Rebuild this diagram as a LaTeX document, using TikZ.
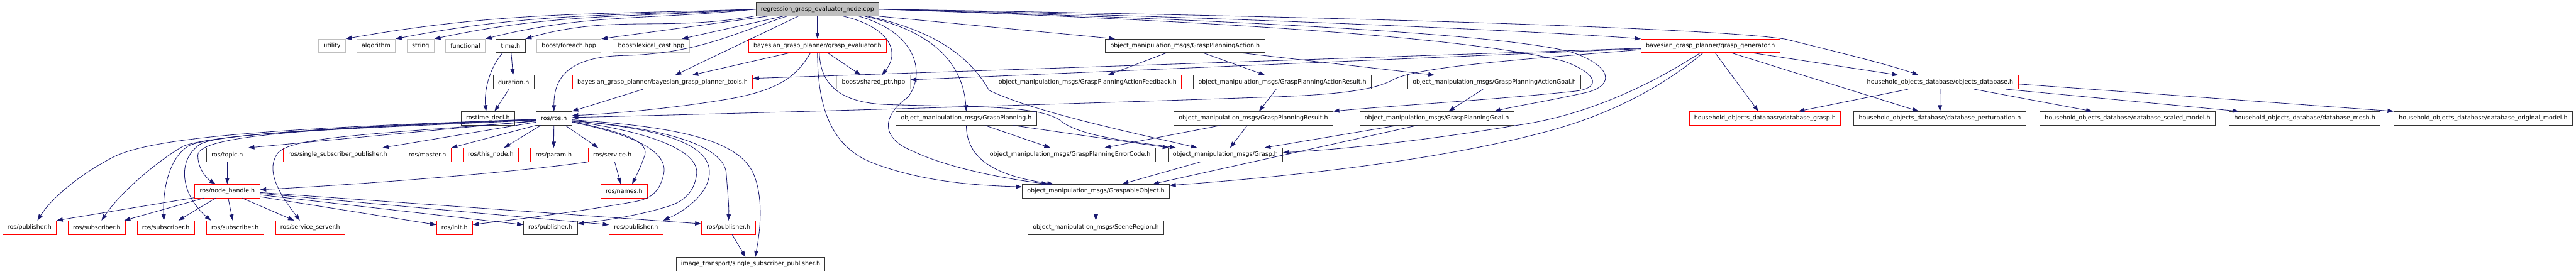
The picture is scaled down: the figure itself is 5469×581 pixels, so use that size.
\documentclass[tikz,border=0pt]{standalone}
\usepackage{fontspec}
\setmainfont{DejaVu Sans}
\usetikzlibrary{arrows.meta}

\definecolor{edgeblue}{RGB}{25,25,112}
\definecolor{hdrgray}{RGB}{191,191,191}

\begin{document}
\begin{tikzpicture}[x=1pt, y=-1pt,
    every node/.style={font=\fontsize{12.7}{15}\selectfont},
    box/.style={draw=black!80, line width=1.1pt, fill=white, minimum height=29pt, inner xsep=10.5pt, inner ysep=0pt},
    redbox/.style={box, draw=red},
    graybox/.style={box, draw=hdrgray},
    dep/.style={draw=edgeblue, line width=1.1pt, -{Triangle[length=13pt,width=9pt]}}]
    \useasboundingbox (0,0) rectangle (5469,581);

    % Source file
    \node[box, fill=hdrgray] (main) at (1735.5,19.5) {regression\_grasp\_evaluator\_node.cpp};

    % Row 1
    \node[graybox] (utility) at (705,97.5) {utility};
    \node[graybox] (algorithm) at (798.5,97.5) {algorithm};
    \node[graybox] (string) at (893,97.5) {string};
    \node[graybox] (functional) at (988,97.5) {functional};
    \node[box] (timeh) at (1084,97.5) {time.h};
    \node[graybox] (foreach) at (1208,97.5) {boost/foreach.hpp};
    \node[graybox] (lexcast) at (1382.5,97.5) {boost/lexical\_cast.hpp};
    \node[redbox] (gev) at (1735.5,97.5) {bayesian\_grasp\_planner/grasp\_evaluator.h};
    \node[box] (gpa) at (2516,97.5) {object\_manipulation\_msgs/GraspPlanningAction.h};
    \node[redbox] (ggen) at (3631.5,97.5) {bayesian\_grasp\_planner/grasp\_generator.h};

    % Row 2
    \node[box] (duration) at (1090.5,174.5) {duration.h};
    \node[redbox] (tools) at (1406.5,174.5) {bayesian\_grasp\_planner/bayesian\_grasp\_planner\_tools.h};
    \node[graybox] (sptr) at (1854.5,174.5) {boost/shared\_ptr.hpp};
    \node[redbox] (gpafb) at (2309,174.5) {object\_manipulation\_msgs/GraspPlanningActionFeedback.h};
    \node[box] (gpares) at (2722.5,174.5) {object\_manipulation\_msgs/GraspPlanningActionResult.h};
    \node[box] (gpagoal) at (3172.5,174.5) {object\_manipulation\_msgs/GraspPlanningActionGoal.h};
    \node[redbox] (objdb) at (4119,174.5) {household\_objects\_database/objects\_database.h};

    % Row 3
    \node[box] (rdecl) at (1036,251.5) {rostime\_decl.h};
    \node[box] (rosros) at (1176,251.5) {ros/ros.h};
    \node[box] (gpl) at (2051.5,251.5) {object\_manipulation\_msgs/GraspPlanning.h};
    \node[box] (gpr) at (2661,251.5) {object\_manipulation\_msgs/GraspPlanningResult.h};
    \node[box] (gpg) at (3050.5,251.5) {object\_manipulation\_msgs/GraspPlanningGoal.h};
    \node[redbox] (dbgrasp) at (3747,251.5) {household\_objects\_database/database\_grasp.h};
    \node[box] (dbpert) at (4118.5,251.5) {household\_objects\_database/database\_perturbation.h};
    \node[box] (dbscaled) at (4517,251.5) {household\_objects\_database/database\_scaled\_model.h};
    \node[box] (dbmesh) at (4893,251.5) {household\_objects\_database/database\_mesh.h};
    \node[box] (dborig) at (5272,251.5) {household\_objects\_database/database\_original\_model.h};

    % Row 4
    \node[box] (topic) at (482.5,329) {ros/topic.h};
    \node[redbox] (ssp) at (717,329) {ros/single\_subscriber\_publisher.h};
    \node[redbox] (master) at (907.5,329) {ros/master.h};
    \node[redbox] (thisnode) at (1042,329) {ros/this\_node.h};
    \node[redbox] (param) at (1175.5,329) {ros/param.h};
    \node[redbox] (service) at (1300,329) {ros/service.h};
    \node[box] (errc) at (2272,329) {object\_manipulation\_msgs/GraspPlanningErrorCode.h};
    \node[box] (grasp) at (2601.5,329) {object\_manipulation\_msgs/Grasp.h};

    % Row 5
    \node[redbox] (nh) at (482.5,406) {ros/node\_handle.h};
    \node[redbox] (names) at (1325,406) {ros/names.h};
    \node[box] (gobj) at (2326.5,406) {object\_manipulation\_msgs/GraspableObject.h};

    % Row 6
    \node[redbox] (pubA) at (62.5,483.5) {ros/publisher.h};
    \node[redbox] (subA) at (205.5,483.5) {ros/subscriber.h};
    \node[redbox] (subB) at (352,483.5) {ros/subscriber.h};
    \node[redbox] (subC) at (499,483.5) {ros/subscriber.h};
    \node[redbox] (svr) at (658.5,483.5) {ros/service\_server.h};
    \node[redbox] (init) at (965,483.5) {ros/init.h};
    \node[box] (pubB) at (1168.5,483.5) {ros/publisher.h};
    \node[redbox] (pubC) at (1350.5,483.5) {ros/publisher.h};
    \node[redbox] (pubD) at (1546.5,483.5) {ros/publisher.h};
    \node[box] (scene) at (2326.5,483.5) {object\_manipulation\_msgs/SceneRegion.h};

    % Row 7
    \node[box] (imtr) at (1593.5,561) {image\_transport/single\_subscriber\_publisher.h};

    % main -> system and boost headers
    \draw[dep] (main.west) to[out=182,in=10] (utility.north east);
    \draw[dep] (main.west) to[out=183,in=11] (algorithm.north east);
    \draw[dep] (main.west) to[out=184,in=12] (string.north east);
    \draw[dep] (main.west) to[out=186,in=14] (functional.north east);
    \draw[dep] ([xshift=-4pt]main.south west) to[out=190,in=16] (timeh.north east);
    \draw[dep] ([xshift=25pt]main.south west) -- (foreach.north east);
    \draw[dep] ([xshift=58pt]main.south west) -- ([xshift=-16pt]lexcast.north east);

    % main -> project headers
    \draw[dep] (main) -- (gev);
    \draw[dep] ([xshift=-41pt]main.south) -- ([xshift=27pt]tools.north);
    \draw[dep] ([xshift=-65pt]main.south) .. controls (1560,70) and (1480,115) .. (1320,118) .. controls (1200,122) and (1176,170) .. (rosros.north);
    \draw[dep] ([xshift=55pt]main.south) .. controls (1880,55) and (1915,105) .. ([xshift=18pt]sptr.north);
    \draw[dep] (main.south east) -- ([xshift=-149pt]gpa.north);
    \draw[dep] ([xshift=100pt]main.south) .. controls (2000,70) and (2045,150) .. (gpl.north);
    \draw[dep] ([xshift=107pt]main.south) .. controls (2010,70) and (2070,140) .. (2100,192) .. controls (2200,240) and (2420,285) .. ([xshift=-60pt]grasp.north);
    \draw[dep] ([xshift=88pt]main.south) .. controls (1950,70) and (1965,160) .. (1927,207) .. controls (1880,240) and (1860,290) .. (1940,322) .. controls (2020,360) and (2150,382) .. ([xshift=-102pt]gobj.north);
    \draw[dep] (main.east) .. controls (2600,35) and (3300,68) .. (ggen.north west);
    \draw[dep] (main.east) .. controls (3000,38) and (3650,62) .. (3790,83) .. controls (3900,110) and (4020,140) .. ([xshift=-46pt]objdb.north);
    \draw[dep] (main.east) .. controls (2900,50) and (3250,85) .. (3340,112) .. controls (3420,140) and (3430,180) .. (3370,196) .. controls (3300,212) and (3220,225) .. ([xshift=122pt]gpg.north);
    \draw[dep] (main.east) .. controls (2900,55) and (3200,100) .. (3320,130) .. controls (3390,155) and (3400,185) .. (3350,193) .. controls (3200,210) and (2950,225) .. (gpr.north east);

    % grasp_evaluator.h
    \draw[dep] ([xshift=-60pt]gev.south) -- ([xshift=63pt]tools.north);
    \draw[dep] ([xshift=22pt]gev.south) -- ([xshift=-27pt]sptr.north);
    \draw[dep] ([xshift=-15pt]gev.south) .. controls (1690,165) and (1650,190) .. (1560,208) .. controls (1450,228) and (1300,242) .. ([yshift=6pt]rosros.east);
    \draw[dep] (gev.south) .. controls (1736,230) and (1765,310) .. (1850,345) .. controls (1960,388) and (2080,394) .. ([yshift=-6pt]gobj.north west);
    \draw[dep] ([xshift=4pt]gev.south) .. controls (1742,185) and (1790,218) .. (1880,222) .. controls (2050,228) and (2200,222) .. (2250,255) .. controls (2290,290) and (2400,300) .. ([xshift=-105pt]grasp.north);

    % grasp_generator.h
    \draw[dep] ([yshift=-5pt]ggen.west) -- ([yshift=8pt]tools.east);
    \draw[dep] ([yshift=-6pt]ggen.west) -- ([yshift=5pt]sptr.east);
    \draw[dep] ([yshift=-8pt]ggen.west) .. controls (3250,125) and (3020,140) .. (2960,168) .. controls (2930,185) and (2880,200) .. (2700,206) .. controls (2300,220) and (1700,238) .. ([yshift=2pt]rosros.east);
    \draw[dep] ([xshift=-22pt]ggen.south) .. controls (3520,170) and (3380,245) .. (3215,267) .. controls (3050,295) and (2850,318) .. ([yshift=5pt]grasp.east);
    \draw[dep] ([xshift=-16pt]ggen.south) .. controls (3540,175) and (3440,235) .. (3300,275) .. controls (3050,345) and (2700,378) .. ([yshift=-3pt]gobj.north east);
    \draw[dep] ([xshift=90pt]ggen.south) -- ([xshift=-89pt]objdb.north);
    \draw[dep] ([xshift=10pt]ggen.south) -- ([xshift=-14pt]dbgrasp.north);
    \draw[dep] ([xshift=45pt]ggen.south) -- ([xshift=-45pt]dbpert.north);

    % objects_database.h
    \draw[dep] ([xshift=-68pt]objdb.south) -- ([xshift=71pt]dbgrasp.north);
    \draw[dep] (objdb) -- (dbpert);
    \draw[dep] ([xshift=72pt]objdb.south) -- ([xshift=-75pt]dbscaled.north);
    \draw[dep] ([xshift=139pt]objdb.south) -- ([xshift=-140pt]dbmesh.north);
    \draw[dep] ([yshift=-4pt]objdb.east) -- (dborig.north west);

    % action messages
    \draw[dep] ([xshift=-40pt]gpa.south) -- ([xshift=43pt]gpafb.north);
    \draw[dep] ([xshift=39pt]gpa.south) -- ([xshift=-37pt]gpares.north);
    \draw[dep] ([xshift=120pt]gpa.south) -- ([xshift=-127pt]gpagoal.north);
    \draw[dep] ([xshift=-13pt]gpares.south) -- ([xshift=12pt]gpr.north);
    \draw[dep] ([xshift=-24pt]gpagoal.south) -- ([xshift=25pt]gpg.north);

    % grasp planning messages
    \draw[dep] ([xshift=40pt]gpl.south) -- ([xshift=-42pt]errc.north);
    \draw[dep] ([xshift=100pt]gpl.south) -- ([xshift=-120pt]grasp.north);
    \draw[dep] (gpl.south) .. controls (2052,330) and (2100,372) .. ([xshift=-90pt]gobj.north);
    \draw[dep] ([xshift=-70pt]gpr.south) -- ([xshift=73pt]errc.north);
    \draw[dep] ([xshift=-13pt]gpr.south) -- ([xshift=10pt]grasp.north);
    \draw[dep] ([xshift=-84pt]gpg.south) -- ([xshift=83pt]grasp.north);
    \draw[dep] ([xshift=-42pt]gpg.south) -- ([xshift=121pt]gobj.north);
    \draw[dep] ([xshift=-53pt]grasp.south) -- ([xshift=56pt]gobj.north);
    \draw[dep] (gobj) -- (scene);

    % time.h
    \draw[dep] (timeh) -- (duration);
    \draw[dep] ([xshift=-17pt]timeh.south) .. controls (1035,150) and (1028,200) .. ([xshift=-4pt]rdecl.north);
    \draw[dep] ([xshift=-10pt]duration.south) -- ([xshift=14pt]rdecl.north);

    % ros/ros.h
    \draw[dep] ([xshift=-41pt]tools.south) -- (rosros.north east);
    \draw[dep] ([xshift=-28pt]rosros.south) -- ([xshift=28pt]thisnode.north);
    \draw[dep] (rosros) -- (param);
    \draw[dep] ([xshift=24pt]rosros.south) -- ([xshift=-30pt]service.north);
    \draw[dep] (rosros.south west) -- (master.north east);
    \draw[dep] ([yshift=-8pt]rosros.west) -- ([xshift=95pt]ssp.north);
    \draw[dep] ([yshift=-5pt]rosros.west) -- (topic.north east);
    \draw[dep] ([yshift=-3pt]rosros.west) .. controls (700,272) and (420,285) .. (420,330) .. controls (420,360) and (440,380) .. ([xshift=-25pt]nh.north);
    \draw[dep] ([yshift=-2pt]rosros.west) .. controls (600,272) and (330,290) .. (242,333) .. controls (170,370) and (110,420) .. ([xshift=17pt]pubA.north);
    \draw[dep] ([yshift=-2pt]rosros.west) .. controls (700,270) and (440,288) .. (388,311) .. controls (330,345) and (255,410) .. ([xshift=10pt]subA.north);
    \draw[dep] ([yshift=-3pt]rosros.west) .. controls (700,272) and (450,286) .. (400,310) .. controls (360,335) and (345,400) .. ([xshift=-4pt]subB.north);
    \draw[dep] ([yshift=-4pt]rosros.west) .. controls (700,275) and (460,284) .. (424,307) .. controls (370,345) and (390,420) .. ([xshift=-51pt]subC.north);
    \draw[dep] ([yshift=-6pt]rosros.west) .. controls (800,285) and (620,290) .. (590,325) .. controls (560,365) and (600,420) .. ([xshift=-22pt]svr.north);
    \draw[dep] ([yshift=-7pt]rosros.east) .. controls (1320,280) and (1385,300) .. (1367,335) .. controls (1358,360) and (1350,375) .. ([xshift=17pt]names.north);
    \draw[dep] ([yshift=-8pt]rosros.east) .. controls (1340,285) and (1420,320) .. (1409,370) .. controls (1400,410) and (1380,422) .. (1350,428) .. controls (1200,455) and (1060,470) .. ([yshift=6pt]init.east);
    \draw[dep] ([yshift=-6pt]rosros.east) .. controls (1380,280) and (1485,320) .. (1479,370) .. controls (1474,410) and (1450,428) .. (1420,438) .. controls (1350,460) and (1270,470) .. ([yshift=8pt]pubB.east);
    \draw[dep] ([yshift=-5pt]rosros.east) .. controls (1420,275) and (1510,310) .. (1506,370) .. controls (1503,410) and (1460,445) .. (pubC.north east);
    \draw[dep] ([yshift=-5pt]rosros.east) .. controls (1450,275) and (1540,320) .. (1542,370) .. controls (1545,410) and (1548,440) .. (pubD.north);
    \draw[dep] ([yshift=-3pt]rosros.east) .. controls (1450,270) and (1570,300) .. (1600,370) .. controls (1625,430) and (1610,510) .. ([xshift=10pt]imtr.north);

    % ros/service.h and ros/topic.h
    \draw[dep] ([xshift=5pt]service.south) -- ([xshift=-7pt]names.north);
    \draw[dep] (service.south west) .. controls (1100,365) and (800,390) .. ([yshift=3pt]nh.east);
    \draw[dep] (topic) -- (nh);

    % ros/node_handle.h
    \draw[dep] ([yshift=1pt]nh.south west) -- (pubA.north east);
    \draw[dep] ([xshift=-50pt]nh.south) -- ([xshift=-3pt]subA.north east);
    \draw[dep] ([xshift=-25pt]nh.south) -- ([xshift=27pt]subB.north);
    \draw[dep] ([xshift=2pt]nh.south) -- ([xshift=-5pt]subC.north);
    \draw[dep] ([xshift=32pt]nh.south) -- ([xshift=-34pt]svr.north);
    \draw[dep] ([yshift=-12pt]nh.east) -- ([yshift=6pt]init.west);
    \draw[dep] ([yshift=-8pt]nh.east) -- ([yshift=6pt]pubB.west);
    \draw[dep] ([yshift=-5pt]nh.east) -- ([yshift=6pt]pubC.west);
    \draw[dep] ([yshift=-3pt]nh.east) -- ([yshift=8pt]pubD.west);
    \draw[dep] ([xshift=8pt]pubD.south) -- ([xshift=-11pt]imtr.north);
\end{tikzpicture}
\end{document}
